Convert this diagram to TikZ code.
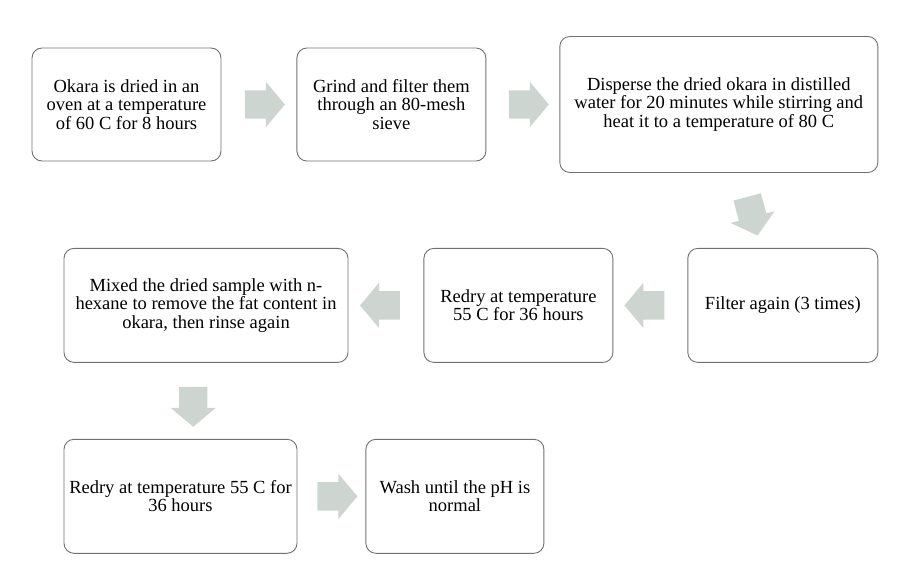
\documentclass[tikz,border=0pt]{standalone}
\usepackage{fontspec}
\setmainfont{Liberation Serif}
\usetikzlibrary{
  calc,
  positioning,
  shapes.arrows,
}
\definecolor{boxgray}{RGB}{112,112,112}
\definecolor{arrowgray}{RGB}{205,213,208}
\tikzstyle{stepbox} = [
  draw=boxgray,
  line width=0.9pt,
  rounded corners=10pt,
  rectangle,
  minimum height=114pt,
  align=center,
  inner sep=0pt,
  font=\fontsize{18.5}{18.5}\selectfont,
]
\tikzstyle{flowarrow} = [
  single arrow,
  fill=arrowgray,
  draw=none,
  minimum height=40pt,
  inner xsep=0pt,
  inner ysep=14pt,
  single arrow head extend=8.5pt,
  single arrow tip angle=100,
]
\tikzstyle{downarrow} = [
  flowarrow,
  inner xsep=14pt,
  inner ysep=0pt,
  shape border rotate=270,
]

\begin{document}
\begin{tikzpicture}[x=1pt,y=1pt]
        \useasboundingbox (0,0) rectangle (909,-575);

        % first row
        \node[stepbox,minimum width=189pt,minimum height=113pt] (b0) at (126.5,-104.5) {Okara is dried in an\\oven at a temperature\\of 60 C for 8 hours};
        \node[stepbox,minimum width=189pt,minimum height=113pt] (b1) [right=75pt of b0] {Grind and filter them\\through an 80-mesh\\sieve};
        \node[stepbox,minimum width=318pt,minimum height=136pt] (b2) [right=73pt of b1] {Disperse the dried okara in distilled\\water for 20 minutes while stirring and\\heat it to a temperature of 80 C};

        % second row, right to left
        \node[stepbox,minimum width=190pt] (b3) [below=75pt of b2.south east,anchor=north east] {Filter again (3 times)};
        \node[stepbox,minimum width=189pt] (b4) [left=74pt of b3] {Redry at temperature\\55 C for 36 hours};
        \node[stepbox,minimum width=284pt] (b5) [left=75pt of b4] {Mixed the dried sample with n-\\hexane to remove the fat content in\\okara, then rinse again};

        % third row
        \node[stepbox,minimum width=233pt] (b6) [below=76pt of b5.south west,anchor=north west] {Redry at temperature 55 C for\\36 hours};
        \node[stepbox,minimum width=178pt] (b7) [right=68pt of b6] {Wash until the pH is\\normal};

        \node[flowarrow] (a0) at ($(b0.east)!0.5!(b1.west)$) {};
        \node[flowarrow] (a1) at ($(b1.east)!0.5!(b2.west)$) {};
        \node[downarrow,rotate=15] (a2) at ($(b2.south)!0.5!(b3.north)$) {};
        \node[flowarrow,shape border rotate=180] (a3) at ($(b3.west)!0.5!(b4.east)$) {};
        \node[flowarrow,shape border rotate=180] (a4) at ($(b4.west)!0.5!(b5.east)$) {};
        \node[downarrow] (a5) at ($(b5.south)!0.5!(b6.north)$) {};
        \node[flowarrow] (a6) at ($(b6.east)!0.5!(b7.west)$) {};
    \end{tikzpicture}
\end{document}
